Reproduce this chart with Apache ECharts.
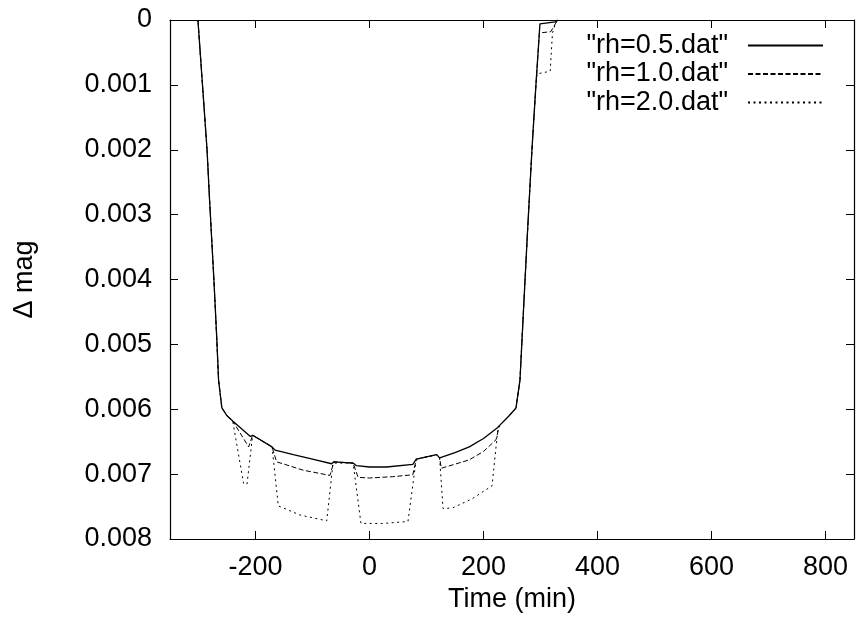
<!DOCTYPE html>
<html>
<head>
<meta charset="utf-8">
<script src="https://cdn.jsdelivr.net/npm/echarts@6/dist/echarts.min.js"></script>
<style>html,body{margin:0;padding:0;background:#fff}#c{width:857px;height:624px}</style>
</head>
<body>
<div id="c"></div>
<script>
// rh=0.5.dat
const t05 = [-301,-293,-285,-280.6,-273,-268,-264.8,-259,-250,-240,-209,-205,-171,-165.6,-133.6,-100,-66.5,-62.5,-28.7,-23,0,30,76,82,118,123,150,175,200,225,228,245,257,264,270,277,285,292,299,326,330];
const m05 = [0,0.001,0.002,0.00277,0.0040,0.0049,0.00555,0.00598,0.0061,0.00618,0.00642,0.0064,0.00658,0.00663,0.0067,0.00677,0.00684,0.00681,0.00683,0.00687,0.00689,0.00689,0.00685,0.00677,0.0067,0.00675,0.00667,0.00658,0.00645,0.00628,0.00625,0.0061,0.00598,0.00555,0.0045,0.0033,0.002,0.001,0.00006,0.00003,0];
// rh=1.0.dat
const t10 = [-301,-293,-285,-280.6,-273,-268,-264.8,-259,-250,-240,-212,-205,-171,-163,-116,-69.4,-62.5,-28.7,-20,0,40,76,82,118,123,126,175,200,222,228,245,257,264,270,277,285,292,298,318,326,330];
const m10 = [0,0.001,0.002,0.00277,0.0040,0.0049,0.00555,0.00598,0.0061,0.00618,0.00658,0.0064,0.00658,0.00681,0.00694,0.00702,0.00681,0.00683,0.00705,0.00706,0.00704,0.00701,0.00677,0.0067,0.00675,0.00691,0.00678,0.00665,0.00647,0.00625,0.0061,0.00598,0.00555,0.0045,0.0033,0.002,0.001,0.0002,0.00018,0.00006,0];
// rh=2.0.dat
const t20 = [-301,-293,-285,-280.6,-273,-268,-264.8,-259,-250,-240,-221,-215,-205,-171,-160,-122,-75,-64,-62.5,-28.7,-15,25,67.5,82,118,123,129,146,180,215,225,228,245,257,264,270,277,285,292,294,317,321,326,330];
const m20 = [0,0.001,0.002,0.00277,0.0040,0.0049,0.00555,0.00598,0.0061,0.00618,0.00714,0.00716,0.0064,0.00658,0.00749,0.00763,0.00772,0.00683,0.00681,0.00683,0.00776,0.00776,0.00773,0.00677,0.0067,0.00675,0.00753,0.00752,0.00738,0.00718,0.00632,0.00625,0.0061,0.00598,0.00555,0.0045,0.0033,0.002,0.001,0.00083,0.00079,0.0002,0.00006,0];

const xTicks = [-200,0,200,400,600,800];
const seriesNames = ['"rh=0.5.dat"','"rh=1.0.dat"','"rh=2.0.dat"'];

const zip = (a,b) => a.map((v,i)=>[v,b[i]]);
const FONT = 'Liberation Sans, Arial, sans-serif';
const FS = 27;

const chart = echarts.init(document.getElementById('c'), null, {renderer:'canvas'});
const axisLine = {show:true, onZero:false, lineStyle:{color:'#000', width:1.2}};
const tick = {show:true, inside:true, length:8, lineStyle:{color:'#000', width:1}};
chart.setOption({
  animation:false,
  backgroundColor:'#fff',
  grid:{left:170, right:3, top:20, bottom:85, containLabel:false},
  legend:{
    orient:'vertical', right:28, top:27, align:'right',
    itemWidth:75, itemHeight:14, itemGap:1.5,
    itemStyle:{opacity:0},
    textStyle:{fontFamily:FONT, fontSize:FS, color:'#000', lineHeight:27, padding:[0,15,0,0]},
    data:seriesNames
  },
  xAxis:[
    {type:'value', position:'bottom', min:-350, max:850,
     axisLine:axisLine,
     axisTick:Object.assign({customValues:xTicks}, tick),
     axisLabel:{customValues:xTicks, fontFamily:FONT, fontSize:FS, color:'#000', margin:15},
     splitLine:{show:false},
     name:'Time (min)', nameLocation:'middle', nameGap:47,
     nameTextStyle:{fontFamily:FONT, fontSize:FS, color:'#000'}},
    {type:'value', position:'top', min:-350, max:850,
     axisLine:axisLine,
     axisTick:Object.assign({customValues:xTicks}, tick),
     axisLabel:{show:false}, splitLine:{show:false}}
  ],
  yAxis:[
    {type:'value', position:'left', inverse:true, min:0, max:0.008, interval:0.001,
     axisLine:axisLine, axisTick:tick,
     axisLabel:{fontFamily:FONT, fontSize:FS, color:'#000', margin:18},
     splitLine:{show:false},
     name:'\u0394 mag', nameLocation:'middle', nameGap:132,
     nameTextStyle:{fontFamily:FONT, fontSize:FS, color:'#000'}},
    {type:'value', position:'right', inverse:true, min:0, max:0.008, interval:0.001,
     axisLine:axisLine, axisTick:tick,
     axisLabel:{show:false}, splitLine:{show:false}}
  ],
  series:[
    {name:seriesNames[0], type:'line', symbol:'none', showSymbol:false, data:zip(t05,m05),
     lineStyle:{color:'#000', width:1.3, type:'solid'}, itemStyle:{color:'#000'}, z:5},
    {name:seriesNames[1], type:'line', symbol:'none', showSymbol:false, data:zip(t10,m10),
     lineStyle:{color:'#000', width:1, type:[5,2.5]}, itemStyle:{color:'#000'}, z:4},
    {name:seriesNames[2], type:'line', symbol:'none', showSymbol:false, data:zip(t20,m20),
     lineStyle:{color:'#000', width:1, type:[2,3.5]}, itemStyle:{color:'#000'}, z:3}
  ]
});
</script>
</body>
</html>
